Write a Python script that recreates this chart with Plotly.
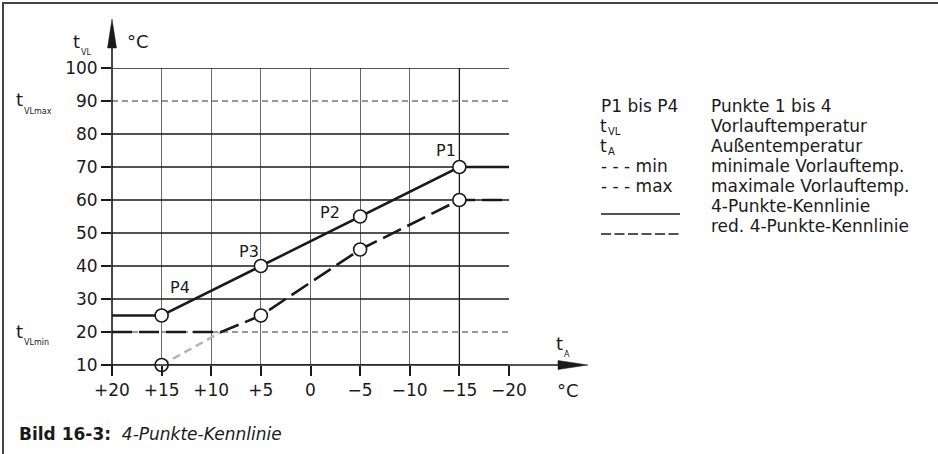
import plotly.graph_objects as go

# ---------------- data ----------------
x_ticks = [20, 15, 10, 5, 0, -5, -10, -15, -20]
x_tick_text = ["+20", "+15", "+10", "+5", "0", "\u22125", "\u221210", "\u221215", "\u221220"]
y_ticks = [10, 20, 30, 40, 50, 60, 70, 80, 90, 100]

# 4-Punkte-Kennlinie (solid)
kenn_x = [20, 15, 5, -5, -15, -20]
kenn_y = [25, 25, 40, 55, 70, 70]
kenn_pts_x = [15, 5, -5, -15]
kenn_pts_y = [25, 40, 55, 70]
kenn_labels = ["P4", "P3", "P2", "P1"]

# reduzierte 4-Punkte-Kennlinie (dashed)
red_x = [20, 9, 5, -5, -15, -20]
red_y = [20, 20, 25, 45, 60, 60]
red_pts_x = [15, 5, -5, -15]
red_pts_y = [10, 25, 45, 60]

# grey extension below t_VLmin
ext_x = [15, 9]
ext_y = [10, 20]

t_vl_min = 20
t_vl_max = 90

legend_left = ["P1 bis P4", "t", "t", "- - - min", "- - - max", "", ""]
legend_left_sub = ["", "VL", "A", "", "", "", ""]
legend_right = ["Punkte 1 bis 4", "Vorlauftemperatur", "Außentemperatur",
                "minimale Vorlauftemp.", "maximale Vorlauftemp.",
                "4-Punkte-Kennlinie", "red. 4-Punkte-Kennlinie"]

# ---------------- layout helpers ----------------
W, H = 938, 454
L, R, T, B = 112, 509, 68, 365
FONT = "DejaVu Sans"
INK = "#1a1a1a"


def px(x):
    return (x - L) / (R - L)


def py(y):
    return (B - y) / (B - T)


fig = go.Figure()

fig.add_trace(go.Scatter(x=ext_x, y=ext_y, mode="lines",
                         line=dict(color="#b4b4b4", width=2.5, dash="8px,5px"),
                         cliponaxis=False, hoverinfo="skip"))
fig.add_trace(go.Scatter(x=red_x, y=red_y, mode="lines",
                         line=dict(color=INK, width=2.6, dash="20px,7px"),
                         cliponaxis=False, hoverinfo="skip"))
fig.add_trace(go.Scatter(x=kenn_x, y=kenn_y, mode="lines",
                         line=dict(color=INK, width=2.6),
                         cliponaxis=False, hoverinfo="skip"))
fig.add_trace(go.Scatter(x=red_pts_x + kenn_pts_x, y=red_pts_y + kenn_pts_y, mode="markers",
                         marker=dict(size=13, color="white", line=dict(color=INK, width=1.6)),
                         cliponaxis=False, hoverinfo="skip"))

shapes = []
for v in y_ticks:
    if v in (t_vl_min, t_vl_max):
        shapes.append(dict(type="line", xref="x", yref="y", x0=20, x1=-20, y0=v, y1=v,
                           line=dict(color="#777777", width=1.3, dash="6px,4px"), layer="between"))
    else:
        shapes.append(dict(type="line", xref="x", yref="y", x0=20, x1=-20, y0=v, y1=v,
                           line=dict(color=INK, width=1.3), layer="between"))
shapes.append(dict(type="line", xref="x", yref="y", x0=-15, x1=-15, y0=10, y1=100,
                   line=dict(color=INK, width=1.3), layer="between"))
# axes with arrows
shapes.append(dict(type="line", xref="paper", yref="paper", x0=0, x1=0, y0=py(375), y1=py(46),
                   line=dict(color=INK, width=1.6)))
shapes.append(dict(type="path", xref="paper", yref="paper",
                   path=f"M {px(112)},{py(19)} L {px(107.5)},{py(48)} L {px(116.5)},{py(48)} Z",
                   fillcolor=INK, line=dict(color=INK, width=0.5)))
shapes.append(dict(type="line", xref="paper", yref="paper", x0=px(102), x1=px(560), y0=0, y1=0,
                   line=dict(color=INK, width=1.6)))
shapes.append(dict(type="path", xref="paper", yref="paper",
                   path=f"M {px(588)},{py(365)} L {px(558)},{py(360.5)} L {px(558)},{py(369.5)} Z",
                   fillcolor=INK, line=dict(color=INK, width=0.5)))
# figure frame (top + left)
shapes.append(dict(type="line", xref="paper", yref="paper", x0=px(2), x1=px(940), y0=py(3), y1=py(3),
                   line=dict(color="#444444", width=2)))
shapes.append(dict(type="line", xref="paper", yref="paper", x0=px(3), x1=px(3), y0=py(2), y1=py(456),
                   line=dict(color="#444444", width=2)))
# legend line symbols
shapes.append(dict(type="line", xref="paper", yref="paper", x0=px(601), x1=px(680), y0=py(214), y1=py(214),
                   line=dict(color=INK, width=1.3)))
shapes.append(dict(type="line", xref="paper", yref="paper", x0=px(601), x1=px(680), y0=py(234), y1=py(234),
                   line=dict(color=INK, width=1.3, dash="10px,3.5px")))

ann = []


def text(x, y, s, size=17, xanchor="left", yanchor="middle"):
    ann.append(dict(x=px(x), y=py(y), xref="paper", yref="paper", text=s, showarrow=False,
                    xanchor=xanchor, yanchor=yanchor, borderpad=0,
                    font=dict(size=size, color=INK, family=FONT)))


label_pos = {"P4": (180, 287), "P3": (249, 251), "P2": (330, 212), "P1": (446, 150)}
for lab in kenn_labels:
    x, y = label_pos[lab]
    text(x, y, lab, size=16, xanchor="center")

# axis symbols
text(81, 41, "t", size=18, xanchor="right")
text(80, 52, "VL", size=8)
text(126, 42, "°C", size=18)
text(24, 100, "t", size=18, xanchor="right")
text(23, 111, "VLmax", size=8)
text(24, 331, "t", size=18, xanchor="right")
text(23, 342, "VLmin", size=8)
text(564, 343, "t", size=18, xanchor="right")
text(563, 354, "A", size=8)
text(568, 390, "°C", size=18, xanchor="center")

# legend text
for i, (a, s, b) in enumerate(zip(legend_left, legend_left_sub, legend_right)):
    yc = 106 + 20 * i
    if s:
        text(608, yc, a, xanchor="right")
        text(607, yc + 5, s, size=10)
    elif a:
        text(600, yc, a)
    text(710, yc, b)

# caption
text(18, 434, "<b>Bild 16-3:</b>  <i>4-Punkte-Kennlinie</i>", size=17)

fig.update_layout(
    width=W, height=H,
    margin=dict(l=L, r=W - R, t=T, b=H - B, pad=0),
    paper_bgcolor="white", plot_bgcolor="white",
    showlegend=False,
    shapes=shapes, annotations=ann,
    font=dict(family=FONT, color=INK, size=17),
    xaxis=dict(range=[20, -20], tickvals=x_ticks, ticktext=x_tick_text,
               showgrid=True, gridcolor="#6a6a6a", gridwidth=1.3,
               zeroline=False, showline=False,
               ticks="outside", ticklen=10, tickwidth=1.5, tickcolor=INK,
               tickfont=dict(size=17, color=INK, family=FONT), fixedrange=True),
    yaxis=dict(range=[10, 100], tickvals=y_ticks,
               showgrid=False, zeroline=False, showline=False,
               ticks="outside", ticklen=10, tickwidth=1.5, tickcolor=INK,
               tickfont=dict(size=17, color=INK, family=FONT), fixedrange=True),
)

fig.write_html("out.html", config={"displayModeBar": False},
               post_script="document.body.style.margin='0px';document.body.style.padding='0px';")
